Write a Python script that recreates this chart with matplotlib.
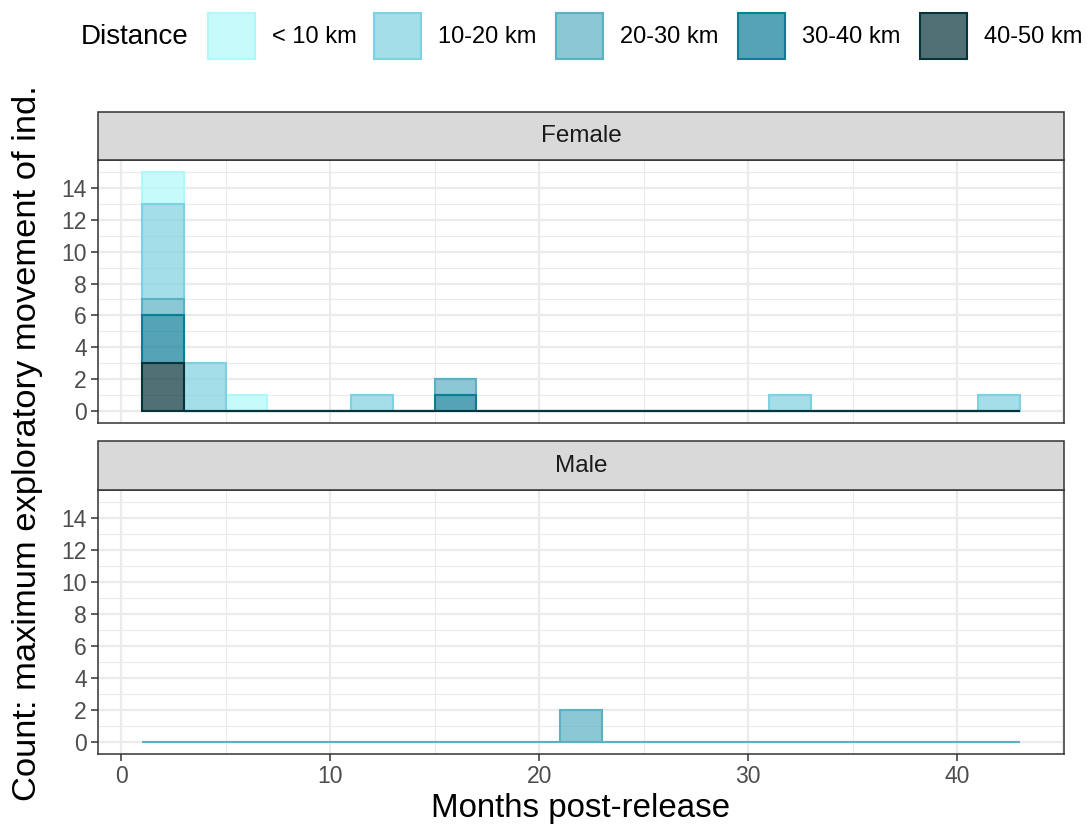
import matplotlib
matplotlib.use("Agg")
import matplotlib.pyplot as plt
from matplotlib.patches import Rectangle
from matplotlib.colors import to_rgba
import numpy as np

plt.rcParams['font.family'] = ['Liberation Sans', 'DejaVu Sans']

# histogram bins (months post-release), width 2 from 1 to 43
bin_edges = np.arange(1, 44, 2)
bin_left = bin_edges[:-1]

distance_labels = ['< 10 km', '10-20 km', '20-30 km', '30-40 km', '40-50 km']
colors = ['#b0f8f8', '#7dd1e0', '#5bb0c4', '#0b7e96', '#06343b']

# counts per bin, stacked (first level on top)
#                         1  3  5  7  9 11 13 15 17 19 21 23 25 27 29 31 33 35 37 39 41
female_counts = {
    '< 10 km':  [2, 0, 1, 0, 0, 0, 0, 0, 0, 0, 0, 0, 0, 0, 0, 0, 0, 0, 0, 0, 0],
    '10-20 km': [6, 3, 0, 0, 0, 1, 0, 0, 0, 0, 0, 0, 0, 0, 0, 1, 0, 0, 0, 0, 1],
    '20-30 km': [1, 0, 0, 0, 0, 0, 0, 1, 0, 0, 0, 0, 0, 0, 0, 0, 0, 0, 0, 0, 0],
    '30-40 km': [3, 0, 0, 0, 0, 0, 0, 1, 0, 0, 0, 0, 0, 0, 0, 0, 0, 0, 0, 0, 0],
    '40-50 km': [3, 0, 0, 0, 0, 0, 0, 0, 0, 0, 0, 0, 0, 0, 0, 0, 0, 0, 0, 0, 0],
}
male_counts = {
    '20-30 km': [0, 0, 0, 0, 0, 0, 0, 0, 0, 0, 2, 0, 0, 0, 0, 0, 0, 0, 0, 0, 0],
}
panels = [('Female', female_counts), ('Male', male_counts)]

ALPHA = 0.7
W, H = 1087, 831


def fx(px):
    return px / W


def fy(py):
    return 1 - py / H


fig = plt.figure(figsize=(W / 100, H / 100), dpi=100)

panel_boxes = [(160, 423, 112), (490, 754, 441)]
axes = []
for (title, counts), (top, bottom, strip_top) in zip(panels, panel_boxes):
    ax = fig.add_axes([fx(98), fy(bottom), fx(1064) - fx(98), fy(top) - fy(bottom)])
    axes.append(ax)
    ax.set_xlim(-1.1, 45.1)
    ax.set_ylim(-0.75, 15.75)
    ax.set_xticks([0, 10, 20, 30, 40])
    ax.set_xticks([5, 15, 25, 35, 45], minor=True)
    ax.set_yticks(np.arange(0, 15, 2))
    ax.set_yticks(np.arange(1, 16, 2), minor=True)
    ax.grid(which='major', color='#ebebeb', linewidth=1.6, zorder=0)
    ax.grid(which='minor', color='#ebebeb', linewidth=0.8, zorder=0)
    ax.set_axisbelow(True)
    for s in ax.spines.values():
        s.set_color('#333333')
        s.set_linewidth(1.1)
    ax.tick_params(which='major', length=5, width=1.1, color='#333333',
                   labelsize=16.5, labelcolor='#4d4d4d', pad=3)
    ax.tick_params(which='minor', length=0)

    # stacked histogram: first level on top, drawn first
    present = [lab for lab in distance_labels if lab in counts]
    for i, lab in enumerate(present):
        col = colors[distance_labels.index(lab)]
        below = np.zeros(len(bin_left))
        for other in present[i + 1:]:
            below += np.array(counts[other])
        ax.bar(bin_left, counts[lab], bottom=below, width=2, align='edge',
               facecolor=to_rgba(col, ALPHA), edgecolor=col, linewidth=1.5,
               zorder=2)

    # strip
    strip = Rectangle((fx(98), fy(top)), fx(1064) - fx(98), fy(strip_top) - fy(top),
                      transform=fig.transFigure, facecolor='#d9d9d9',
                      edgecolor='#333333', linewidth=1.1)
    fig.add_artist(strip)
    fig.text(fx((98 + 1064) / 2), fy((top + strip_top) / 2), title,
             ha='center', va='center', fontsize=17.5, color='#1a1a1a')

axes[0].tick_params(axis='x', labelbottom=False, length=0)

fig.text(fx(581), fy(808), 'Months post-release', ha='center', va='center',
         fontsize=23.8, color='black')
fig.text(fx(28), fy(443), 'Count: maximum exploratory movement of ind.',
         ha='center', va='center', rotation=90, fontsize=24.8, color='black')

# legend
fig.text(fx(81), fy(37), 'Distance', ha='left', va='center', fontsize=20, color='black')
key_left = [207, 373, 555, 737, 919]
for x0, lab, col in zip(key_left, distance_labels, colors):
    fig.add_artist(Rectangle((fx(x0 + 1), fy(59)), fx(47), fy(13) - fy(59),
                             transform=fig.transFigure,
                             facecolor=to_rgba(col, ALPHA),
                             edgecolor=col, linewidth=1.5))
    fig.text(fx(x0 + 65), fy(37), lab, ha='left', va='center', fontsize=17,
             color='black')

fig.savefig('out.png', dpi=100)
